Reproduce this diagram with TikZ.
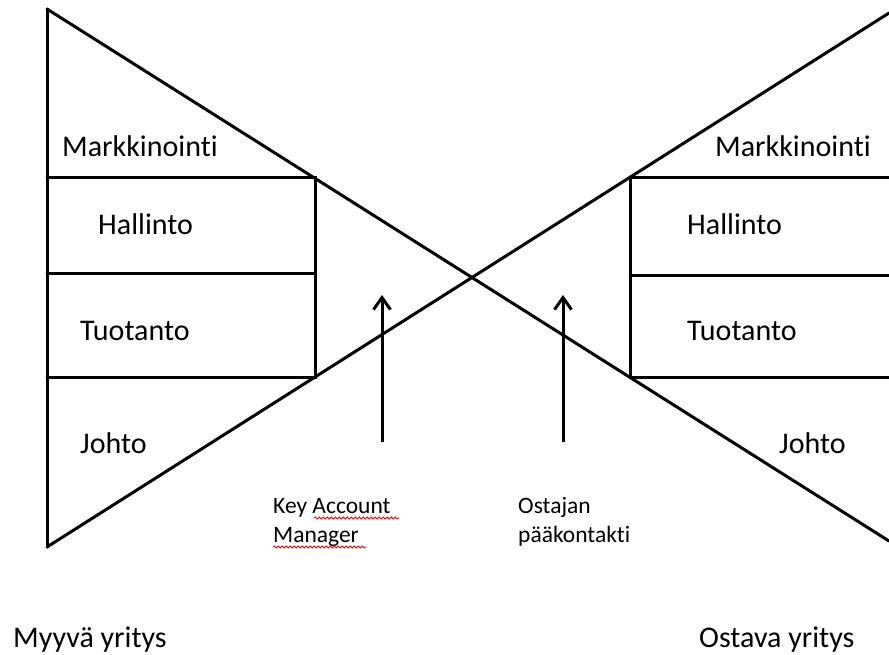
\documentclass[tikz,border=0pt]{standalone}
\usepackage{fontspec}
\setmainfont{Carlito}[Ligatures=NoCommon,Contextuals=NoAlternate]
\usetikzlibrary{arrows.meta,decorations.pathmorphing}
\begin{document}
\begin{tikzpicture}[x=1pt,y=-1pt,
  edge/.style={line width=3pt,line cap=round,line join=miter},
  lbl/.style={anchor=base west,inner sep=0pt,font=\fontsize{30}{36}\selectfont},
  small/.style={anchor=base west,inner sep=0pt,font=\fontsize{23.5}{28}\selectfont},
  upar/.style={line width=3pt,-{Straight Barb[length=12pt,width=17pt,line width=3pt]}},
  spell/.style={red,line width=0.8pt,decorate,decoration={snake,segment length=4pt,amplitude=1.1pt}}]
\useasboundingbox (0,0) rectangle (889,654);

% corner points of the two crossing triangles
\coordinate (tl) at (47,9);
\coordinate (bl) at (47,547);
\coordinate (br) at (889,541);
\coordinate (tr) at (889,13);

% seller side
\draw[edge] (tl) -- (bl);
\draw[edge] (tl) -- (br);
\draw[edge] (bl) -- (tr);
\coordinate (la) at (47,177);  \coordinate (lA) at (315,177);
\coordinate (lb) at (47,273);  \coordinate (lB) at (315,273);
\coordinate (lc) at (47,377);  \coordinate (lC) at (315,377);
\draw[edge] (la) -- (lA) -- (lC) -- (lc);
\draw[edge] (lb) -- (lB);

% buyer side
\coordinate (ra) at (630,177);  \coordinate (rA) at (889,177);
\coordinate (rb) at (630,275);  \coordinate (rB) at (889,275);
\coordinate (rc) at (630,377);  \coordinate (rC) at (889,377);
\draw[edge] (rA) -- (ra) -- (rc) -- (rC);
\draw[edge] (rb) -- (rB);

% contact arrows
\coordinate (kamS) at (382,442); \coordinate (kamE) at (382,295);
\coordinate (ostS) at (563,442); \coordinate (ostE) at (563,295);
\draw[upar] (kamS) -- (kamE);
\draw[upar] (ostS) -- (ostE);

% department labels, seller
\node[lbl] (lmark) at (62,156) {Markkinoint\kern0pt i};
\node[lbl] (lhall) at (98,234) {Hallinto};
\node[lbl] (ltuot) at (80,340) {Tuotanto};
\node[lbl] (ljoht) at (80,453) {Johto};
\node[lbl] (seller) at (13,647) {Myyvä yritys};

% department labels, buyer
\node[lbl] (rmark) at (715,156) {Markkinoint\kern0pt i};
\node[lbl] (rhall) at (687,234) {Hallinto};
\node[lbl] (rtuot) at (687,340) {Tuotanto};
\node[lbl] (rjoht) at (779,453) {Johto};
\node[lbl] (buyer) at (699,647) {Ostava yritys};

% contact persons
\node[small] (kam1) at (273,513) {Key Account};
\node[small] (kam2) at (273,542) {Manager};
\node[small] (ost1) at (518,513) {Ostajan};
\node[small] (ost2) at (518,542) {pääkontakt\kern0pt i};

% spell-check underlines
\coordinate (w1a) at (314,518); \coordinate (w1b) at (399,518);
\coordinate (w2a) at (273,547); \coordinate (w2b) at (366,547);
\draw[spell] (w1a) -- (w1b);
\draw[spell] (w2a) -- (w2b);
\end{tikzpicture}
\end{document}
